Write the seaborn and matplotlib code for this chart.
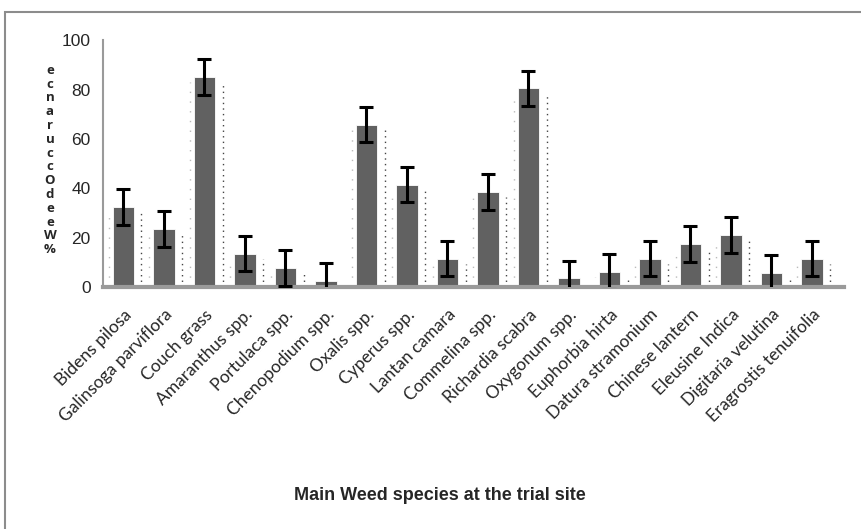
import matplotlib
matplotlib.use("Agg")
import matplotlib.pyplot as plt
import seaborn as sns
import pandas as pd
import numpy as np
from matplotlib.patches import Rectangle

species = ["Bidens pilosa", "Galinsoga parviflora", "Couch grass", "Amaranthus spp.",
           "Portulaca spp.", "Chenopodium spp.", "Oxalis spp.", "Cyperus spp.",
           "Lantan camara", "Commelina spp.", "Richardia scabra", "Oxygonum spp.",
           "Euphorbia hirta", "Datura stramonium", "Chinese lantern", "Eleusine Indica",
           "Digitaria velutina", "Eragrostis tenuifolia"]
occurrence = [32.5, 23.5, 85.0, 13.5, 7.8, 2.5, 65.8, 41.5, 11.5, 38.5, 80.5, 3.5,
              6.2, 11.5, 17.5, 21.0, 5.7, 11.5]
error = [7.2] * 18
yticks = [0, 20, 40, 60, 80, 100]
ylabel = "% Weed Occurance"
xlabel = "Main Weed species at the trial site"

df = pd.DataFrame({"species": species, "occurrence": occurrence, "error": error})

sns.set_style("white")
fig = plt.figure(figsize=(8.62, 5.29), dpi=100)
ax = fig.add_axes([0.1195, 0.4575, 0.86, 0.4665])

x = np.arange(len(species))
occ = np.array(occurrence)
ax.vlines(x + 0.45, 0, occ - 2, colors="#444444", linestyles=(0, (1, 3)), linewidth=1, zorder=1)
ax.vlines(x - 0.36, 0, occ - 2, colors="#bbbbbb", linestyles=(0, (1, 6)), linewidth=1, zorder=1)

sns.barplot(data=df, x="species", y="occurrence", color="#616161", saturation=1,
            width=0.53, errorbar=None, ax=ax, zorder=2, edgecolor="white", linewidth=0.6)
ax.errorbar(x, occ, yerr=df["error"], fmt="none", ecolor="black", elinewidth=2.2,
            capsize=5, capthick=2.2, zorder=3)

ax.set_xlim(-0.5, 17.8)
ax.set_ylim(0, 100)
ax.set_yticks(yticks)
ax.set_yticklabels([str(t) for t in yticks], fontsize=12.5, family="Liberation Sans")
ax.set_xticks(x)
ax.set_xticklabels(species, rotation=45, ha="right", rotation_mode="anchor",
                   fontsize=12.5, family="Lato")
ax.tick_params(axis="x", length=0, pad=14)
ax.tick_params(axis="y", length=0, pad=9)
ax.set_xlabel("")
ax.set_ylabel("")
for s in ["top", "right"]:
    ax.spines[s].set_visible(False)
ax.spines["left"].set_color("#9a9a9a")
ax.spines["left"].set_linewidth(1.5)
ax.spines["bottom"].set_color("#9a9a9a")
ax.spines["bottom"].set_linewidth(3)

# stacked y label (letters reversed, as in the reference)
stack = "\n".join(list(ylabel.replace(" ", ""))[::-1])
fig.text(50 / 862, 1 - 160 / 529, stack, fontsize=9.5, fontweight="bold",
         family="Open Sans", ha="center", va="center", linespacing=1.08)

fig.text(0.51, 1 - 496 / 529, xlabel, fontsize=13, fontweight="bold",
         family="Liberation Sans", ha="center", va="center")

fig.patches.append(Rectangle((5 / 862, -0.05), 1.1, 1 - 12 / 529 + 0.05,
                             transform=fig.transFigure, fill=False,
                             edgecolor="#8c8c8c", linewidth=1.5))

fig.savefig("out.png", dpi=100)
